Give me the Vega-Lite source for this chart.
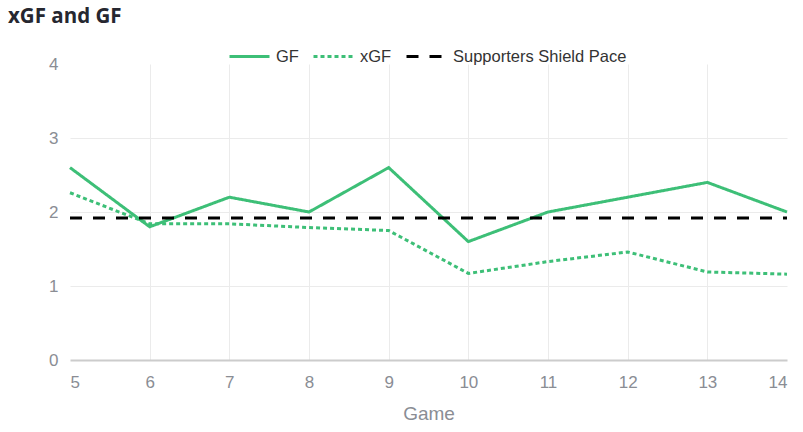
{
  "$schema": "https://vega.github.io/schema/vega-lite/v6.json",
  "autosize": "none",
  "width": 717,
  "height": 296,
  "padding": {"left": 70, "top": 64, "right": 16, "bottom": 72},
  "background": "white",
  "title": {
    "text": "xGF and GF",
    "anchor": "start",
    "frame": "group",
    "dx": -62,
    "offset": 8,
    "font": "Open Sans",
    "fontSize": 20.5,
    "fontWeight": "bold",
    "color": "#262730"
  },
  "data": {
    "values": [
      {"game": 5, "series": "GF", "value": 2.6},
      {"game": 6, "series": "GF", "value": 1.8},
      {"game": 7, "series": "GF", "value": 2.2},
      {"game": 8, "series": "GF", "value": 2.0},
      {"game": 9, "series": "GF", "value": 2.6},
      {"game": 10, "series": "GF", "value": 1.6},
      {"game": 11, "series": "GF", "value": 2.0},
      {"game": 12, "series": "GF", "value": 2.2},
      {"game": 13, "series": "GF", "value": 2.4},
      {"game": 14, "series": "GF", "value": 2.0},
      {"game": 5, "series": "xGF", "value": 2.26},
      {"game": 6, "series": "xGF", "value": 1.84},
      {"game": 7, "series": "xGF", "value": 1.84},
      {"game": 8, "series": "xGF", "value": 1.79},
      {"game": 9, "series": "xGF", "value": 1.75},
      {"game": 10, "series": "xGF", "value": 1.17},
      {"game": 11, "series": "xGF", "value": 1.33},
      {"game": 12, "series": "xGF", "value": 1.46},
      {"game": 13, "series": "xGF", "value": 1.19},
      {"game": 14, "series": "xGF", "value": 1.16},
      {"game": 5, "series": "Supporters Shield Pace", "value": 1.92},
      {"game": 14, "series": "Supporters Shield Pace", "value": 1.92}
    ]
  },
  "mark": {"type": "line", "strokeJoin": "miter"},
  "encoding": {
    "x": {
      "field": "game",
      "type": "quantitative",
      "scale": {"domain": [5, 14], "nice": false, "zero": false},
      "axis": {
        "title": "Game",
        "values": [5, 6, 7, 8, 9, 10, 11, 12, 13, 14],
        "ticks": false,
        "domainColor": "#cccccc",
        "domainWidth": 2,
        "gridColor": {"condition": {"test": "datum.value == 5 || datum.value == 14", "value": "transparent"}, "value": "#ebebeb"},
        "labelPadding": 14,
        "labelFont": "Liberation Sans",
        "labelFontSize": 17,
        "labelColor": "#8a8d94",
        "titleFont": "Liberation Sans",
        "titleFontSize": 19,
        "titleFontWeight": "normal",
        "titleColor": "#8a8d94",
        "titlePadding": 14
      }
    },
    "y": {
      "field": "value",
      "type": "quantitative",
      "scale": {"domain": [0, 4], "nice": false},
      "axis": {
        "title": null,
        "values": [0, 1, 2, 3, 4],
        "ticks": false,
        "domain": false,
        "gridColor": {"condition": {"test": "datum.value == 4 || datum.value == 0", "value": "transparent"}, "value": "#ebebeb"},
        "labelPadding": 12,
        "labelFont": "Liberation Sans",
        "labelFontSize": 17,
        "labelColor": "#8a8d94"
      }
    },
    "color": {
      "field": "series",
      "type": "nominal",
      "scale": {
        "domain": ["GF", "xGF", "Supporters Shield Pace"],
        "range": ["#3dbf77", "#3dbf77", "#000000"]
      },
      "legend": {
        "title": null,
        "orient": "none",
        "direction": "horizontal",
        "legendX": 158,
        "legendY": -29,
        "symbolType": "stroke",
        "symbolSize": 1600,
        "symbolStrokeWidth": 3,
        "labelFont": "Liberation Sans",
        "labelFontSize": 16.5,
        "labelColor": "#333333",
        "labelOffset": 5,
        "labelLimit": 400,
        "columnPadding": 8,
        "encode": {
          "symbols": {
            "update": {
              "strokeWidth": {"signal": "datum.value == 'Supporters Shield Pace' ? 1.5 : 3"}
            }
          }
        }
      }
    },
    "strokeDash": {
      "field": "series",
      "type": "nominal",
      "scale": {
        "domain": ["GF", "xGF", "Supporters Shield Pace"],
        "range": [[1, 0], [4, 3], [12, 11]]
      },
      "legend": null
    },
    "strokeWidth": {
      "field": "series",
      "type": "nominal",
      "scale": {
        "domain": ["GF", "xGF", "Supporters Shield Pace"],
        "range": [3, 3, 1.5]
      },
      "legend": null
    }
  },
  "config": {"view": {"stroke": null}}
}
